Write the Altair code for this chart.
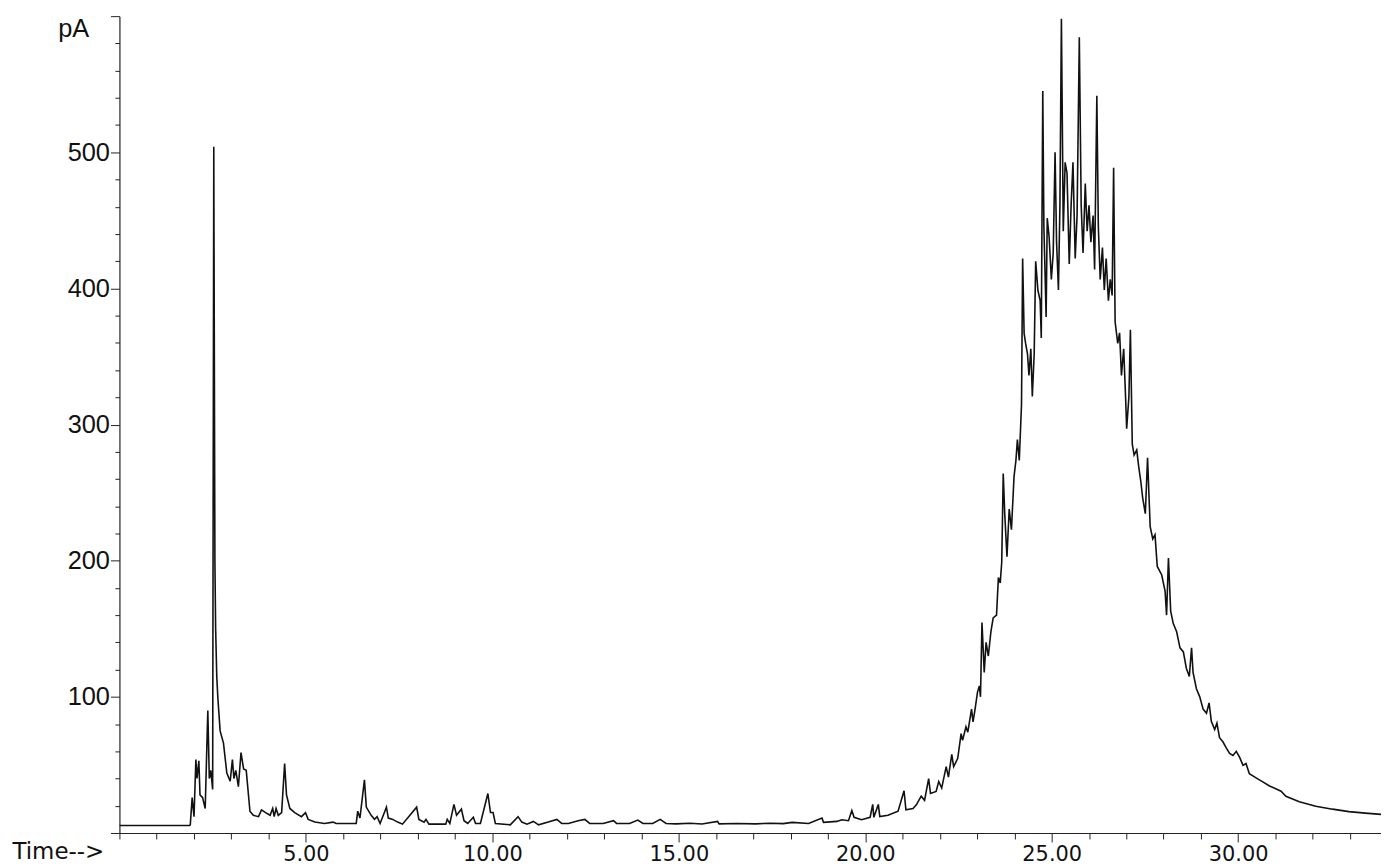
import altair as alt
import pandas as pd

# Retention time (min) and detector signal (pA)
t_early = [0.00, 1.88, 1.90, 1.95, 2.00, 2.05, 2.08, 2.13, 2.16, 2.23, 2.30, 2.37, 2.41, 2.45, 2.50,
           2.53, 2.56, 2.58, 2.61, 2.64, 2.70, 2.79, 2.88, 2.97, 3.03, 3.07, 3.12, 3.19, 3.26, 3.33,
           3.40, 3.46, 3.50, 3.59, 3.73, 3.81, 3.92, 4.04, 4.11, 4.15, 4.20, 4.26, 4.35, 4.43, 4.48,
           4.57, 4.70, 4.88, 4.99, 5.06, 5.24, 5.50, 5.73, 5.81]
v_early = [5.5, 5.5, 6, 26, 12, 54, 40, 53, 28, 26, 18, 90, 40, 46, 32,
           504, 200, 150, 115, 99, 75, 66, 44, 38, 54, 40, 46, 34, 59, 47,
           46, 28, 16, 13, 12, 17, 15, 13, 18, 12, 18, 13, 15, 51, 28,
           18, 15, 12, 15, 10, 8, 7, 8, 7]

t_mid = [6.35, 6.39, 6.45, 6.57, 6.62, 6.75, 6.84, 6.91, 6.99, 7.16, 7.21, 7.33, 7.46, 7.59, 7.97,
         8.03, 8.17, 8.22, 8.30, 8.75, 8.79, 8.86, 8.97, 9.04, 9.17, 9.24, 9.34, 9.49, 9.55, 9.68,
         9.88, 9.95, 10.02, 10.08, 10.48, 10.69, 10.79, 10.93, 11.10, 11.24, 11.50, 11.73, 11.86, 12.04, 12.30,
         12.48, 12.61, 12.97, 13.25, 13.33, 13.68, 13.90, 14.04, 14.30, 14.50, 14.66, 14.93, 15.30, 15.62, 16.04,
         16.08, 16.55, 17.06, 17.45, 17.80,
         18.04, 18.48, 18.84, 18.88, 19.24, 19.37, 19.55, 19.64, 19.70, 19.90, 20.13, 20.20, 20.23, 20.35, 20.39,
         20.61, 20.88, 21.04, 21.09, 21.28, 21.37, 21.50, 21.59, 21.70, 21.75, 21.90, 21.97, 22.05, 22.17, 22.23,
         22.32, 22.37, 22.48, 22.57, 22.61, 22.70, 22.75, 22.85, 22.89, 22.94, 23.01, 23.06, 23.09]
v_mid = [7, 16, 11, 39, 19, 13, 10, 12, 7, 19, 11, 10, 8, 6.5, 19,
         10, 8, 10, 6.5, 6.5, 10, 7, 21, 13, 17.5, 9, 7, 11.5, 7, 7,
         29, 15, 15, 7, 6, 12, 8, 6.5, 8.5, 6, 8, 10, 7, 7, 9,
         10, 7, 7, 9, 7, 7, 9.5, 7, 7, 10, 7, 6.7, 7.2, 6.6, 8.5,
         6.7, 7.0, 6.7, 7.2, 6.9,
         7.8, 7, 11, 7.8, 8.5, 9.7, 9, 16.5, 11.5, 9.7, 11.5, 21, 11.5, 21, 12,
         13, 16, 31, 17, 18, 20.7, 27, 24, 40, 29, 30.5, 37.8, 33, 48.7, 41,
         57.7, 48.7, 54.8, 73, 68, 78, 74, 91, 81.6, 90, 103.5, 108, 100]

t_hump = [23.13, 23.19, 23.24, 23.30, 23.37, 23.43, 23.52, 23.57, 23.62, 23.66, 23.70, 23.74, 23.80, 23.86, 23.92,
          23.99, 24.04, 24.08, 24.13, 24.19, 24.22, 24.26, 24.30, 24.35, 24.39, 24.44, 24.48, 24.53, 24.57, 24.63,
          24.69, 24.72, 24.76, 24.79, 24.85, 24.88, 24.93, 24.99, 25.04, 25.09, 25.13, 25.18, 25.22, 25.26, 25.31,
          25.36, 25.41, 25.47, 25.52, 25.57, 25.63, 25.68, 25.74, 25.79, 25.84, 25.90, 25.95, 26.00, 26.05, 26.11,
          26.15, 26.21, 26.25, 26.30, 26.36, 26.41, 26.46, 26.52, 26.57, 26.62, 26.66, 26.70, 26.77, 26.82, 26.87,
          26.93, 26.98, 27.01, 27.07, 27.11, 27.16, 27.21, 27.28, 27.33, 27.39, 27.44, 27.51, 27.57]
v_hump = [154.6, 118, 140, 130, 148, 158, 160, 187.6, 183.7, 199, 264, 234.5, 203, 238, 222.8,
          262, 273.6, 289, 273.6, 314.8, 422, 367, 359.6, 352, 336, 355.7, 320.6, 352, 420, 398.6,
          391, 363.6, 545, 445.7, 379, 451.6, 438, 406.6, 426, 500, 434, 398.8, 461, 598, 442,
          492.6, 484.8, 418, 461, 492.6, 422, 453.6, 584.5, 461, 426, 477, 442, 461, 434, 453.6,
          414, 541.5, 445.7, 406.6, 430, 398.8, 422, 391, 406.6, 394.8, 488.6, 375.5, 359.7, 367.4, 336,
          355.7, 320.6, 297, 320.6, 369.6, 285.6, 277.6, 281.4, 269.7, 258, 246, 234.5, 275.6]

t_tail = [27.64, 27.71, 27.77, 27.83, 27.95, 28.04, 28.08, 28.13, 28.19, 28.26, 28.35, 28.44, 28.53, 28.61, 28.69,
          28.75, 28.79, 28.88, 28.97, 29.06, 29.15, 29.22, 29.28, 29.37, 29.43, 29.50, 29.59, 29.68, 29.77, 29.86,
          29.95, 30.04, 30.13, 30.21, 30.30, 30.48, 30.66, 30.84, 31.15, 31.28, 31.64, 32.08, 32.53, 32.97, 33.41,
          33.83]
v_tail = [225, 216, 219, 195.8, 189.5, 177.6, 160, 202, 163, 153.8, 147.8, 136, 133, 121, 115,
          136, 118, 106, 100, 91, 88, 95.6, 82, 76, 80.7, 70, 67, 62.5, 58.4, 57,
          60, 55.5, 49.7, 51, 43.5, 40.5, 37.5, 34.5, 30.7, 27, 23, 19.7, 17.5, 15.7, 14.6,
          13.7]

x_tick_values = list(range(0, 34))
y_tick_values = list(range(0, 601, 20))

df = pd.DataFrame({
    "t": t_early + t_mid + t_hump + t_tail,
    "v": v_early + v_mid + v_hump + v_tail,
})

Y_FONT = "Liberation Sans"
X_FONT = "DejaVu Sans"

x_axis = alt.Axis(
    values=x_tick_values,
    labelExpr="(datum.value % 5 === 0 && datum.value > 0) ? format(datum.value, '.2f') : ''",
    tickSize={"condition": {"test": "datum.value % 5 === 0 && datum.value > 0", "value": 9}, "value": 6},
    labelFont=X_FONT, labelFontSize=21, labelColor="#111111", labelPadding=2,
    labelOverlap=False, labelFlush=False,
    grid=False, domainColor="#222222", domainWidth=1.2, tickColor="#222222", tickWidth=1,
    title="Time-->", titleFont=X_FONT, titleFontSize=23, titleFontWeight="normal", titleColor="#111111",
    titleX=-108, titleY=26, titleAlign="left", titleBaseline="alphabetic", titleAngle=0,
)

y_axis = alt.Axis(
    values=y_tick_values,
    labelExpr="(datum.value % 100 === 0 && datum.value > 0 && datum.value < 600) ? datum.label : ''",
    tickSize={"condition": {"test": "datum.value % 100 === 0", "value": 9}, "value": 4.5},
    labelFont=Y_FONT, labelFontSize=25.5, labelColor="#111111", labelPadding=1,
    labelOverlap=False, labelFlush=False,
    grid=False, domainColor="#222222", domainWidth=1.2, tickColor="#222222", tickWidth=1,
    title="pA", titleFont=Y_FONT, titleFontSize=25.5, titleFontWeight="normal", titleColor="#111111",
    titleX=-62, titleY=20, titleAlign="left", titleBaseline="alphabetic", titleAngle=0,
)

chart = alt.Chart(df).mark_line(color="#111111", strokeWidth=1.6, clip=True).encode(
    x=alt.X("t:Q", scale=alt.Scale(domain=[0, 33.83], nice=False, zero=False), axis=x_axis),
    y=alt.Y("v:Q", scale=alt.Scale(domain=[0, 600], nice=False), axis=y_axis),
).properties(
    width=1268,
    height=821,
    padding={"left": 112, "top": 6, "right": 0, "bottom": 33},
    autosize=alt.AutoSizeParams(type="none"),
    background="white",
).configure_view(stroke=None)

chart.save("out.html", embed_options={"renderer": "svg", "actions": False})
